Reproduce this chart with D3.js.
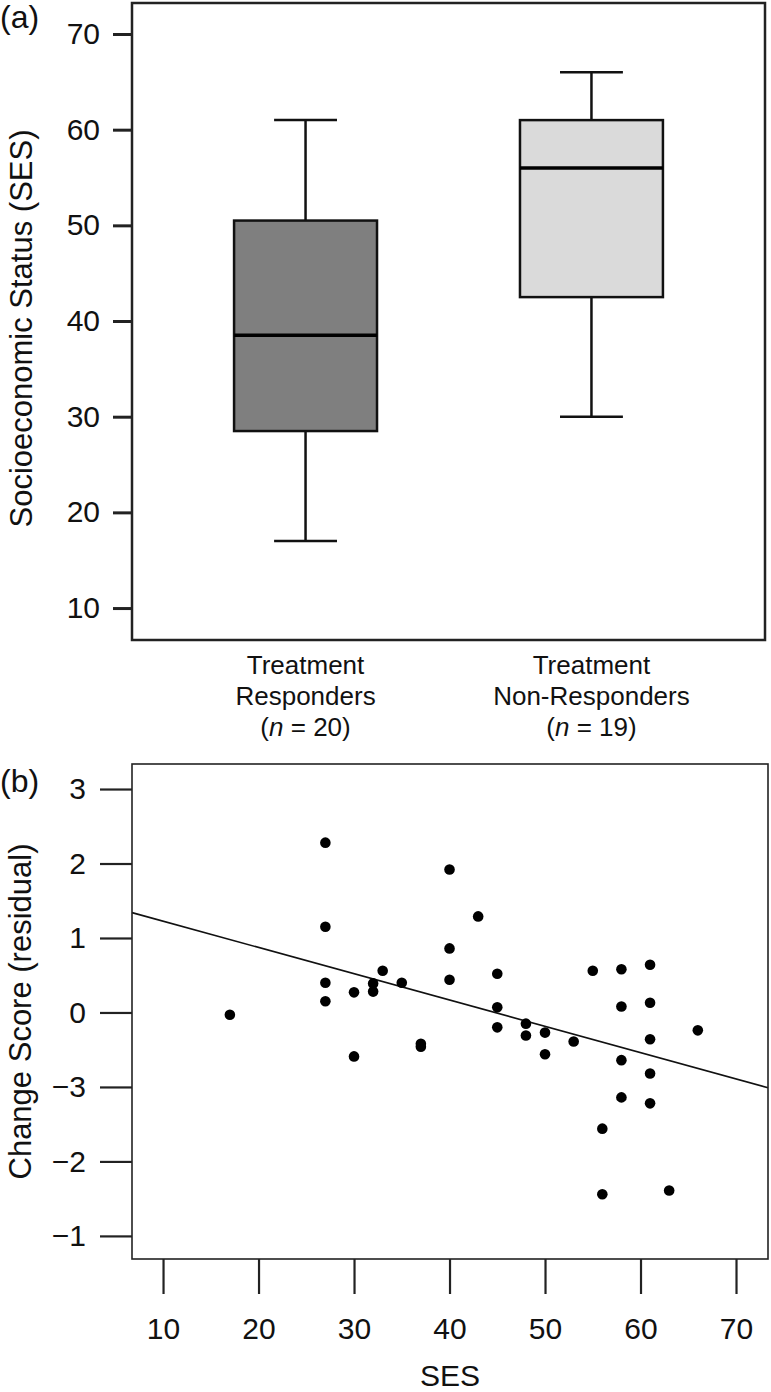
<!DOCTYPE html>
<html>
<head>
<meta charset="utf-8">
<script src="https://cdn.jsdelivr.net/npm/d3@7"></script>
<style>
  html, body { margin: 0; padding: 0; background: #fff; }
  svg { display: block; font-family: "Liberation Sans", Arial, Helvetica, sans-serif; }
</style>
</head>
<body>
<svg id="chart" width="771" height="1392"></svg>
<script>
// ---------- Panel (a): box plot data ----------
const groups = ["Treatment Responders", "Treatment Non-Responders"];
const groupLabelLines = [
  ["Treatment", "Responders", "n = 20"],
  ["Treatment", "Non-Responders", "n = 19"]
];
const whiskerLow  = [17, 30];
const quartile1   = [28.5, 42.5];
const medians     = [38.5, 56];
const quartile3   = [50.5, 61];
const whiskerHigh = [61, 66];
const boxFills    = ["#7f7f7f", "#dadada"];
const sesTicks    = [10, 20, 30, 40, 50, 60, 70];

// ---------- Panel (b): scatter data ----------
const sesValues = [17, 27, 27, 27, 27, 30, 30, 32, 32, 33, 35, 37, 37, 40, 40, 40, 43, 45, 45, 45,
                   48, 48, 50, 50, 53, 55, 56, 56, 58, 58, 58, 58, 61, 61, 61, 61, 61, 63, 66];
const changeScores = [-0.03, 2.28, 1.15, 0.40, 0.15, 0.27, -0.59, 0.39, 0.28, 0.56, 0.40, -0.42, -0.46, 1.92, 0.86, 0.44, 1.29, 0.52, 0.07, -0.20,
                      -0.15, -0.31, -0.27, -0.56, -0.39, 0.56, -1.56, -2.44, 0.58, 0.08, -0.64, -1.14, 0.64, 0.13, -0.36, -0.82, -1.22, -2.39, -0.24];
const fitIntercept = 1.579;
const fitSlope = -0.0353;
const residTickValues = [3, 2, 1, 0, -1, -2, -3];
const residTickLabels = ["3", "2", "1", "0", "\u22123", "\u22122", "\u22121"];
const sesXTicks = [10, 20, 30, 40, 50, 60, 70];

const svg = d3.select("#chart");

// ================= Panel (a) =================
const A = { left: 132, top: 3, right: 765, bottom: 640 };
const yA = d3.scaleLinear().domain([6.66, 73.24]).range([A.bottom, A.top]);
const xA = d3.scalePoint().domain(groups).range([A.left, A.right]).padding(0.607);
const step = xA.step();
const boxW = step * 0.5;
const capW = step * 0.22;

const gA = svg.append("g");

groups.forEach((g, i) => {
  const cx = xA(g);
  const grp = gA.append("g");
  grp.append("line").attr("x1", cx).attr("x2", cx)
    .attr("y1", yA(quartile3[i])).attr("y2", yA(whiskerHigh[i]))
    .attr("stroke", "#111").attr("stroke-width", 2.5);
  grp.append("line").attr("x1", cx).attr("x2", cx)
    .attr("y1", yA(quartile1[i])).attr("y2", yA(whiskerLow[i]))
    .attr("stroke", "#111").attr("stroke-width", 2.5);
  [whiskerHigh[i], whiskerLow[i]].forEach(v => {
    grp.append("line").attr("x1", cx - capW / 2).attr("x2", cx + capW / 2)
      .attr("y1", yA(v)).attr("y2", yA(v))
      .attr("stroke", "#111").attr("stroke-width", 2.5);
  });
  grp.append("rect")
    .attr("x", cx - boxW / 2).attr("width", boxW)
    .attr("y", yA(quartile3[i])).attr("height", yA(quartile1[i]) - yA(quartile3[i]))
    .attr("fill", boxFills[i]).attr("stroke", "#111").attr("stroke-width", 2.5);
  grp.append("line").attr("x1", cx - boxW / 2).attr("x2", cx + boxW / 2)
    .attr("y1", yA(medians[i])).attr("y2", yA(medians[i]))
    .attr("stroke", "#000").attr("stroke-width", 3.5);
  const t = gA.append("text").attr("text-anchor", "middle").attr("font-size", 26).attr("fill", "#111");
  const lines = groupLabelLines[i];
  t.append("tspan").attr("x", cx).attr("y", 674).text(lines[0]);
  t.append("tspan").attr("x", cx).attr("y", 705).text(lines[1]);
  const t3 = t.append("tspan").attr("x", cx).attr("y", 736);
  t3.append("tspan").text("(");
  t3.append("tspan").attr("font-style", "italic").text(lines[2].split(" = ")[0]);
  t3.append("tspan").text(" = " + lines[2].split(" = ")[1] + ")");
});

gA.append("rect").attr("x", A.left).attr("y", A.top)
  .attr("width", A.right - A.left).attr("height", A.bottom - A.top)
  .attr("fill", "none").attr("stroke", "#222").attr("stroke-width", 2.5);

const axA = gA.append("g").attr("transform", `translate(${A.left},0)`)
  .call(d3.axisLeft(yA).tickValues(sesTicks).tickSize(19).tickPadding(13).tickSizeOuter(0));
axA.select(".domain").remove();
axA.selectAll(".tick line").attr("stroke", "#222").attr("stroke-width", 3);
axA.selectAll(".tick text").attr("font-size", 30).attr("fill", "#111")
  .attr("font-family", "Liberation Sans, Arial, sans-serif");

gA.append("text").attr("transform", `translate(32,${(A.top + A.bottom) / 2 + 7}) rotate(-90)`)
  .attr("text-anchor", "middle").attr("font-size", 31).attr("fill", "#111")
  .text("Socioeconomic Status (SES)");

gA.append("text").attr("x", 0).attr("y", 28).attr("font-size", 32).attr("fill", "#111").text("(a)");

// ================= Panel (b) =================
const B = { left: 132, top: 764, right: 768, bottom: 1259 };
const xB = d3.scaleLinear().domain([6.75, 73.35]).range([B.left, B.right]);
const yB = d3.scaleLinear().domain([-3.31, 3.336]).range([B.bottom, B.top]);
const gB = svg.append("g");

const [x0, x1] = xB.domain();
gB.append("line")
  .attr("x1", xB(x0)).attr("y1", yB(fitIntercept + fitSlope * x0))
  .attr("x2", xB(x1)).attr("y2", yB(fitIntercept + fitSlope * x1))
  .attr("stroke", "#111").attr("stroke-width", 1.6);

const pts = sesValues.map((s, i) => ({ s, c: changeScores[i] }));
gB.selectAll("circle.pt").data(pts).enter().append("circle")
  .attr("class", "pt")
  .attr("cx", d => xB(d.s)).attr("cy", d => yB(d.c))
  .attr("r", 5.3).attr("fill", "#000");

gB.append("rect").attr("x", B.left).attr("y", B.top)
  .attr("width", B.right - B.left).attr("height", B.bottom - B.top)
  .attr("fill", "none").attr("stroke", "#222").attr("stroke-width", 1.6);

const axBy = gB.append("g").attr("transform", `translate(${B.left},0)`)
  .call(d3.axisLeft(yB).tickValues(residTickValues)
    .tickFormat(d => residTickLabels[residTickValues.indexOf(d)])
    .tickSize(32).tickPadding(14).tickSizeOuter(0));
axBy.select(".domain").remove();
axBy.selectAll(".tick line").attr("stroke", "#222").attr("stroke-width", 2.2);
axBy.selectAll(".tick text").attr("font-size", 30).attr("fill", "#111")
  .attr("font-family", "Liberation Sans, Arial, sans-serif");

const axBx = gB.append("g").attr("transform", `translate(0,${B.bottom})`)
  .call(d3.axisBottom(xB).tickValues(sesXTicks).tickSize(35).tickPadding(24).tickSizeOuter(0));
axBx.select(".domain").remove();
axBx.selectAll(".tick line").attr("stroke", "#222").attr("stroke-width", 2.2);
axBx.selectAll(".tick text").attr("font-size", 30).attr("fill", "#111")
  .attr("font-family", "Liberation Sans, Arial, sans-serif");

gB.append("text").attr("x", (B.left + B.right) / 2).attr("y", 1386)
  .attr("text-anchor", "middle").attr("font-size", 30).attr("fill", "#111").text("SES");

gB.append("text").attr("transform", `translate(31,${(B.top + B.bottom) / 2}) rotate(-90)`)
  .attr("text-anchor", "middle").attr("font-size", 31).attr("fill", "#111")
  .text("Change Score (residual)");

gB.append("text").attr("x", 0).attr("y", 792).attr("font-size", 32).attr("fill", "#111").text("(b)");
</script>
</body>
</html>
